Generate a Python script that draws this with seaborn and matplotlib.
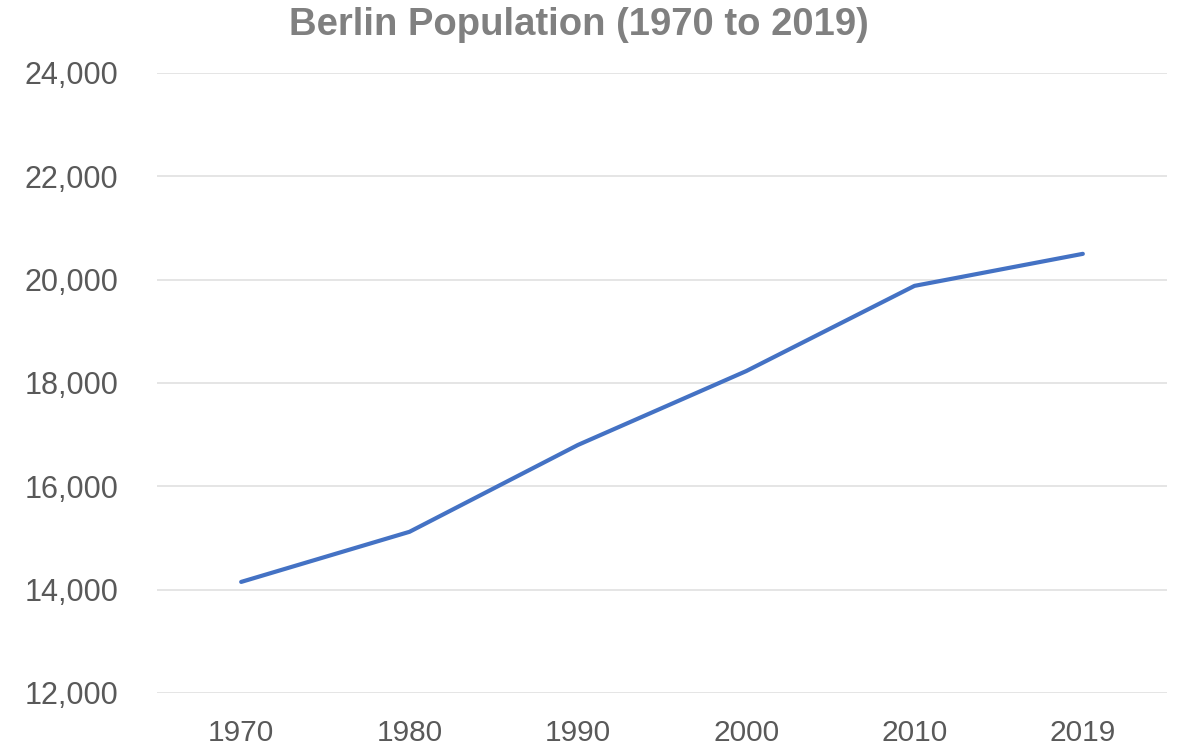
import matplotlib
matplotlib.use("Agg")
import matplotlib.pyplot as plt
import seaborn as sns
import pandas as pd
from matplotlib.ticker import FuncFormatter

years = ["1970", "1980", "1990", "2000", "2010", "2019"]
population = [14150, 15120, 16800, 18230, 19880, 20500]

df = pd.DataFrame({"year": years, "population": population})

sns.set_theme(style="white")
plt.rcParams["font.family"] = ["Liberation Sans", "DejaVu Sans"]

fig = plt.figure(figsize=(11.77, 7.48), dpi=100)
ax = fig.add_axes([157 / 1177, 1 - 693 / 748, 1010 / 1177, 620 / 748])

sns.lineplot(data=df, x="year", y="population", ax=ax, color="#4472C4",
             linewidth=3.0, solid_capstyle="round", sort=False)

ax.set_xlim(-0.5, len(years) - 0.5)
ax.set_ylim(12000, 24000)
ax.set_yticks(range(12000, 24001, 2000))
ax.yaxis.set_major_formatter(FuncFormatter(lambda v, p: f"{int(v):,}"))

ax.grid(axis="y", color="#e3e3e3", linewidth=1.3)
ax.set_axisbelow(True)
for s in ax.spines.values():
    s.set_visible(False)

ax.tick_params(axis="y", length=0, pad=28, labelsize=22, labelcolor="#595959")
ax.tick_params(axis="x", length=0, pad=19, labelsize=21.5, labelcolor="#595959")
ax.set_xlabel("")
ax.set_ylabel("")

fig.suptitle("Berlin Population (1970 to 2019)", x=579 / 1177, y=1 - 25 / 748,
             va="center", ha="center", fontsize=27.5, fontweight="bold", color="#808080")

fig.savefig("out.png", dpi=100)
